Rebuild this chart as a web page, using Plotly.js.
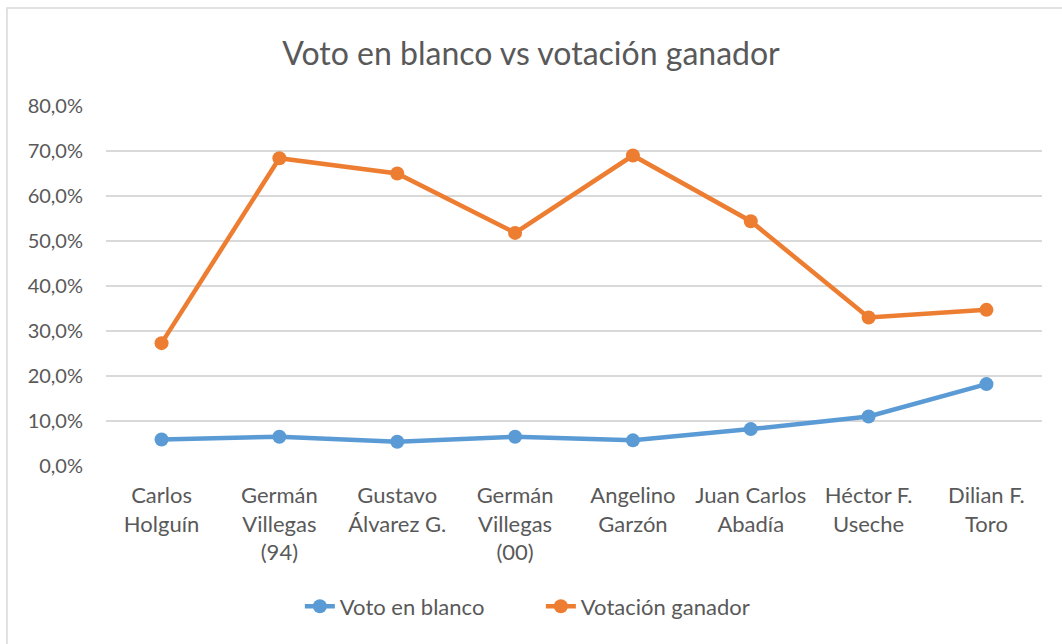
<!DOCTYPE html>
<html>
<head>
<meta charset="utf-8">
<script src="https://cdn.plot.ly/plotly-3.0.1.min.js"></script>
<style>html,body{margin:0;padding:0;background:#fff;}#chart{width:1062px;height:644px;}</style>
</head>
<body>
<div id="chart"></div>
<script>
const categories = [
  "Carlos<br>Holguín",
  "Germán<br>Villegas<br>(94)",
  "Gustavo<br>Álvarez G.",
  "Germán<br>Villegas<br>(00)",
  "Angelino<br>Garzón",
  "Juan Carlos<br>Abadía",
  "Héctor F.<br>Useche",
  "Dilian F.<br>Toro"
];
const votoEnBlanco = [5.9, 6.5, 5.4, 6.5, 5.7, 8.2, 11.0, 18.2];
const votacionGanador = [27.3, 68.4, 65.0, 51.8, 69.0, 54.4, 33.0, 34.7];
const yTicks = [0, 10, 20, 30, 40, 50, 60, 70, 80];
const yTickText = yTicks.map(v => v.toFixed(1).replace(".", ",") + "%");

const FONT = "Lato, 'Open Sans', sans-serif";
const TXT = "#595959";

const traces = [
  {
    type: "scatter", mode: "lines+markers", name: "Voto en blanco",
    x: categories, y: votoEnBlanco,
    line: {color: "#5B9BD5", width: 4.5},
    marker: {color: "#5B9BD5", size: 14}
  },
  {
    type: "scatter", mode: "lines+markers", name: "Votación ganador",
    x: categories, y: votacionGanador,
    line: {color: "#ED7D31", width: 4.5},
    marker: {color: "#ED7D31", size: 14}
  }
];

const layout = {
  width: 1062, height: 644,
  margin: {l: 106, r: 20, t: 106, b: 178},
  paper_bgcolor: "#fff", plot_bgcolor: "#fff",
  font: {family: FONT, color: TXT, size: 20},
  title: {
    text: "Voto en blanco vs votación ganador",
    font: {family: FONT, size: 32, color: TXT},
    x: 0.5, xref: "container", xanchor: "center",
    y: 0.916, yref: "container", yanchor: "middle"
  },
  xaxis: {
    type: "category",
    showgrid: false, zeroline: false, showline: false,
    ticks: "", ticklabelstandoff: 14,
    tickfont: {family: FONT, size: 22, color: TXT},
    tickangle: 0
  },
  yaxis: {
    range: [0, 80],
    tickmode: "array", tickvals: yTicks, ticktext: yTickText,
    showgrid: true, gridcolor: "#D9D9D9", gridwidth: 1.3,
    zeroline: false, showline: false,
    ticks: "", ticklabelstandoff: 22,
    tickfont: {family: FONT, size: 20, color: TXT}
  },
  legend: {
    orientation: "h",
    x: 0.4646, xanchor: "center",
    y: -0.39, yanchor: "middle",
    font: {family: FONT, size: 22, color: TXT},
    entrywidth: 196, entrywidthmode: "pixels",
    traceorder: "normal"
  },
  shapes: [{
    type: "rect", xref: "paper", yref: "paper",
    x0: -0.1058, x1: 1.2, y0: -0.8, y1: 1.272,
    line: {color: "#D9D9D9", width: 1.5},
    fillcolor: "rgba(0,0,0,0)", layer: "below"
  }],
  showlegend: true
};

Plotly.newPlot("chart", traces, layout, {displayModeBar: false, staticPlot: true});
</script>
</body>
</html>
